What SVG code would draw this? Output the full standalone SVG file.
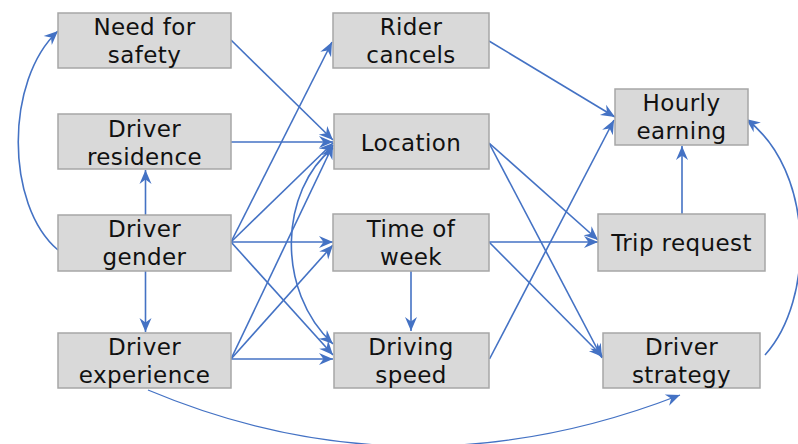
<svg xmlns="http://www.w3.org/2000/svg" width="798" height="444" viewBox="0 0 798 444">
<style>
.box{fill:#D9D9D9;stroke:#A6A6A6;stroke-width:1.5}
.t{font-family:"DejaVu Sans",sans-serif;font-size:23px;letter-spacing:0.4px;fill:#111;text-anchor:middle}
.e{fill:none;stroke:#4472C4;stroke-width:1.6;marker-end:url(#ah)}
</style>
<defs>
<marker id="ah" markerUnits="userSpaceOnUse" markerWidth="17" markerHeight="14" viewBox="-15 -7 17 14" refX="0" refY="0" orient="auto">
<path d="M0,0 L-14,-6 L-9.5,0 L-14,6 Z" fill="#4472C4"/>
</marker>
</defs>
<rect width="798" height="444" fill="#fff"/>
<g id="connectors">
<path class="e" d="M58,250 C5,205 5,80 58,31"/>
<path class="e" d="M145.5,215 L145.5,170"/>
<path class="e" d="M145.5,271 L145.5,332"/>
<path class="e" d="M231,40 L333,140"/>
<path class="e" d="M231,142 L333,142"/>
<path class="e" d="M231,242 L332,42"/>
<path class="e" d="M231,242 L333,143"/>
<path class="e" d="M231,242 L333,242"/>
<path class="e" d="M231,242 L333,355"/>
<path class="e" d="M231,359 L333,145"/>
<path class="e" d="M231,359 L333,245"/>
<path class="e" d="M231,359 L333,359"/>
<path class="e" d="M333,148 C280,190 275,290 333,344"/>
<path class="e" d="M489,41 L615,117"/>
<path class="e" d="M489.5,359 L614,120"/>
<path class="e" d="M489,143 L598,240"/>
<path class="e" d="M489,143 L602,358"/>
<path class="e" d="M489,242 L598,242"/>
<path class="e" d="M489,242 L603,357"/>
<path class="e" d="M411,271 L411,331"/>
<path class="e" d="M682,214 L682,146"/>
<path class="e" d="M765,355 C815,300 815,170 746,119"/>
<path class="e" d="M148,390 Q410,500 680,395" style="stroke-width:1.3"/>
</g>
<g id="need-for-safety"><rect class="box" x="58" y="13" width="173" height="55"/><text class="t" x="144.5" y="35">Need for</text><text class="t" x="144.5" y="63">safety</text></g>
<g id="driver-residence"><rect class="box" x="58" y="114" width="173" height="55"/><text class="t" x="144.5" y="137">Driver</text><text class="t" x="144.5" y="165">residence</text></g>
<g id="driver-gender"><rect class="box" x="58" y="215" width="173" height="56"/><text class="t" x="144.5" y="237">Driver</text><text class="t" x="144.5" y="265">gender</text></g>
<g id="driver-experience"><rect class="box" x="58" y="333" width="173" height="55"/><text class="t" x="144.5" y="355">Driver</text><text class="t" x="144.5" y="383">experience</text></g>
<g id="rider-cancels"><rect class="box" x="333" y="13" width="156" height="55"/><text class="t" x="411" y="35">Rider</text><text class="t" x="411" y="63">cancels</text></g>
<g id="location"><rect class="box" x="334" y="114" width="155" height="55"/><text class="t" x="411" y="151">Location</text></g>
<g id="time-of-week"><rect class="box" x="333" y="214" width="156" height="57"/><text class="t" x="411" y="237">Time of</text><text class="t" x="411" y="265">week</text></g>
<g id="driving-speed"><rect class="box" x="334" y="333" width="155" height="55"/><text class="t" x="411" y="355">Driving</text><text class="t" x="411" y="383">speed</text></g>
<g id="hourly-earning"><rect class="box" x="615" y="89" width="133" height="56"/><text class="t" x="681.5" y="111">Hourly</text><text class="t" x="681.5" y="139">earning</text></g>
<g id="trip-request"><rect class="box" x="598" y="214" width="167" height="57"/><text class="t" x="681.5" y="251">Trip request</text></g>
<g id="driver-strategy"><rect class="box" x="603" y="333" width="157" height="55"/><text class="t" x="681.5" y="355">Driver</text><text class="t" x="681.5" y="383">strategy</text></g>
</svg>
